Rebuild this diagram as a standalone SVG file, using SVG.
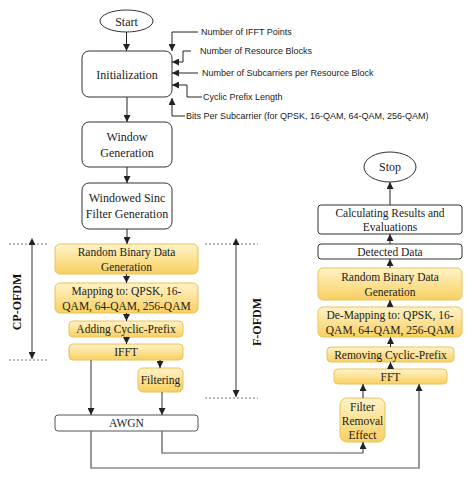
<svg xmlns="http://www.w3.org/2000/svg" width="476" height="480" viewBox="0 0 476 480">
<defs>
<linearGradient id="yg" x1="0" y1="0" x2="0" y2="1">
<stop offset="0" stop-color="#fff3c8"/>
<stop offset="1" stop-color="#f8d060"/>
</linearGradient>
<marker id="ah" viewBox="0 0 10 10" refX="10" refY="5" markerWidth="7" markerHeight="7" markerUnits="userSpaceOnUse" orient="auto">
<path d="M0,0 L10,5 L0,10 z" fill="#222"/>
</marker>
<marker id="ahs" viewBox="0 0 10 10" refX="0" refY="5" markerWidth="7" markerHeight="7" markerUnits="userSpaceOnUse" orient="auto-start-reverse">
<path d="M0,0 L10,5 L0,10 z" fill="#222"/>
</marker>
</defs>
<style>
.w{fill:#fff;stroke:#333;stroke-width:1}
.y{fill:url(#yg);stroke:#e9c25a;stroke-width:1}
.t{font-family:"Liberation Serif","Times New Roman",serif;font-size:12px;fill:#222;text-anchor:middle}
.ts{font-family:"Liberation Serif","Times New Roman",serif;font-size:11.5px;fill:#222;text-anchor:middle}
.p{font-family:"Liberation Sans",Arial,sans-serif;font-size:9px;fill:#222}
.c{fill:none;stroke:#222;stroke-width:1;marker-end:url(#ah)}
.g{fill:none;stroke:#555;stroke-width:1.2;marker-end:url(#ah)}
.pl{fill:none;stroke:#222;stroke-width:1}
.d{fill:none;stroke:#555;stroke-width:0.8;stroke-dasharray:2,2}
.lb{font-family:"Liberation Serif","Times New Roman",serif;font-size:12px;font-weight:bold;fill:#111;text-anchor:middle}
</style>

<g id="start"><ellipse class="w" cx="126.5" cy="21" rx="26.5" ry="11"/><text class="t" x="126.5" y="25.5">Start</text></g>
<g id="init"><rect class="w" x="82" y="51" width="90" height="46" rx="7"/><text class="t" x="127" y="78.5" font-size="12.5">Initialization</text></g>
<g id="window"><rect class="w" x="82" y="122" width="90" height="45" rx="7"/><text class="t" x="127" y="141">Window</text><text class="t" x="127" y="157">Generation</text></g>
<g id="sinc"><rect class="w" x="82" y="183" width="90" height="46" rx="7"/><text class="t" x="127" y="202">Windowed Sinc</text><text class="t" x="127" y="218">Filter Generation</text></g>

<g id="rbd"><rect class="y" x="55" y="244" width="143" height="30" rx="5"/><text class="ts" x="126.5" y="256">Random Binary Data</text><text class="ts" x="126.5" y="271">Generation</text></g>
<g id="map"><rect class="y" x="55" y="283" width="143" height="30" rx="5"/><text class="ts" x="126.5" y="295">Mapping to: QPSK, 16-</text><text class="ts" x="126.5" y="310">QAM, 64-QAM, 256-QAM</text></g>
<g id="addcp"><rect class="y" x="69" y="321" width="114" height="16" rx="4"/><text class="ts" x="126" y="333">Adding Cyclic-Prefix</text></g>
<g id="ifft"><rect class="y" x="69" y="344" width="114" height="16" rx="4"/><text class="ts" x="126" y="356">IFFT</text></g>
<g id="filtering"><rect class="y" x="138" y="368" width="45" height="24" rx="5"/><text class="ts" x="160.5" y="384">Filtering</text></g>
<g id="awgn"><rect x="55" y="415" width="143" height="16" rx="3" fill="#fff" stroke="#555"/><text class="ts" x="126.5" y="427">AWGN</text></g>

<g id="stop"><ellipse class="w" cx="390" cy="167" rx="26" ry="15"/><text class="t" x="390" y="171">Stop</text></g>
<g id="calc"><rect class="w" x="318" y="205" width="144" height="29" rx="3"/><text class="ts" x="390" y="217">Calculating Results and</text><text class="ts" x="390" y="231">Evaluations</text></g>
<g id="detected"><rect class="w" x="318" y="244" width="144" height="15" rx="3"/><text class="ts" x="390" y="256">Detected Data</text></g>
<g id="rbd2"><rect class="y" x="318" y="268" width="144" height="32" rx="5"/><text class="ts" x="390" y="281">Random Binary Data</text><text class="ts" x="390" y="296">Generation</text></g>
<g id="demap"><rect class="y" x="318" y="307" width="144" height="30" rx="5"/><text class="ts" x="390" y="319">De-Mapping to: QPSK, 16-</text><text class="ts" x="390" y="334">QAM, 64-QAM, 256-QAM</text></g>
<g id="remcp"><rect class="y" x="327" y="347" width="127" height="15" rx="4"/><text class="ts" x="390.5" y="358.5">Removing Cyclic-Prefix</text></g>
<g id="fft"><rect class="y" x="334" y="369" width="113" height="15" rx="4"/><text class="ts" x="390.5" y="380.5">FFT</text></g>
<g id="fre"><rect class="y" x="340" y="398" width="45" height="44" rx="7"/><text class="ts" x="362.5" y="411">Filter</text><text class="ts" x="362.5" y="425">Removal</text><text class="ts" x="362.5" y="439">Effect</text></g>

<g id="params">
<text class="p" x="201" y="35">Number of IFFT Points</text>
<text class="p" x="200" y="54">Number of Resource Blocks</text>
<text class="p" x="202" y="76">Number of Subcarriers per Resource Block</text>
<text class="p" x="203" y="100">Cyclic Prefix Length</text>
<text class="p" x="186" y="119">Bits Per Subcarrier (for QPSK, 16-QAM, 64-QAM, 256-QAM)</text>
</g>

<g id="labels">
<text class="lb" transform="translate(21,302) rotate(-90)">CP-OFDM</text>
<text class="lb" transform="translate(261,322) rotate(-90)">F-OFDM</text>
</g>

<g id="connectors">
<path class="c" d="M126.5,32 V51"/>
<path class="c" d="M127,97 V122"/>
<path class="c" d="M127,167 V183"/>
<path class="c" d="M127,229 V244"/>
<path class="c" d="M126.5,274 V283"/>
<path class="c" d="M126.5,313 V321"/>
<path class="c" d="M126.5,337 V344"/>
<path class="c" d="M160,360 V368"/>
<path class="g" d="M91,360 V415"/>
<path class="g" d="M162,392 V415"/>
<path class="g" d="M162,431 V453 H363 V442"/>
<path class="g" d="M91,431 V468 H419 V384"/>
<path class="c" d="M363,398 V384"/>
<path class="c" d="M390.5,369 V362"/>
<path class="c" d="M390.5,347 V337"/>
<path class="c" d="M390,307 V300"/>
<path class="c" d="M390,268 V259"/>
<path class="c" d="M390,244 V234"/>
<path class="c" d="M390,205 V182"/>
<path class="c" d="M198,32 H172 V51"/>
<path class="c" d="M191,51 H183 V62 H172"/>
<path class="c" d="M198,73 H172"/>
<path class="c" d="M202,97 H187 V85 H172"/>
<path class="c" d="M185,116 H172 V98"/>
<path class="d" d="M9,244 H48 M9,360 H48 M205,244 H258 M205,398 H258"/>
<path fill="none" stroke="#333" stroke-width="1" marker-start="url(#ahs)" marker-end="url(#ah)" d="M32,245 V359"/>
<path fill="none" stroke="#555" stroke-width="1.2" marker-start="url(#ahs)" marker-end="url(#ah)" d="M236,245 V397"/>
</g>
</svg>
